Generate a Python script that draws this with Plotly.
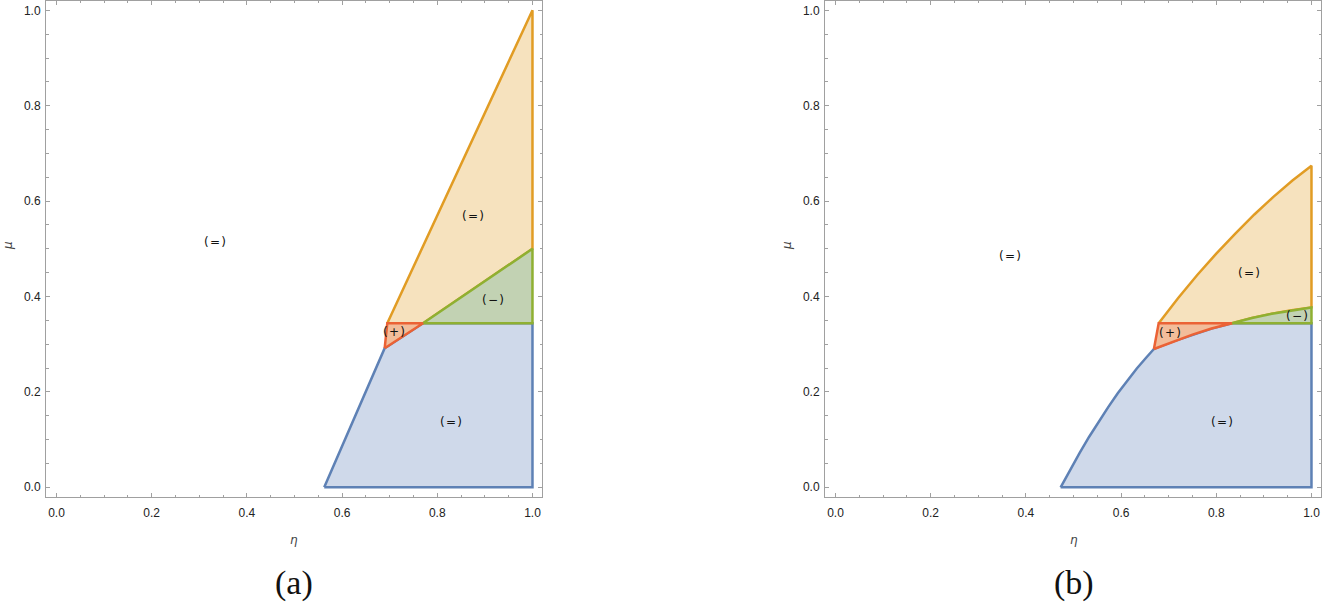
import plotly.graph_objects as go
from plotly.subplots import make_subplots

# colours (Mathematica default palette) and their light fills
BLUE, BLUE_FILL = "#5E81B5", "#CFD9EA"
ORANGE, ORANGE_FILL = "#E19C24", "#F6E2BE"
GREEN, GREEN_FILL = "#8FB032", "#C2D2B3"
RED, RED_FILL = "#EB6235", "#F2BD9A"

MU_SPLIT = 0.344  # horizontal border shared by several regions

# ---- panel (a): straight borders
a_blue_eta = [0.5625, 1.0, 1.0, 0.770, 0.6895]
a_blue_mu = [0.0, 0.0, MU_SPLIT, MU_SPLIT, 0.2916]
a_orange_eta = [0.695, 1.0, 1.0, 0.770]
a_orange_mu = [MU_SPLIT, 1.0, 0.5, MU_SPLIT]
a_green_eta = [0.770, 1.0, 1.0]
a_green_mu = [MU_SPLIT, 0.5, MU_SPLIT]
a_red_eta = [0.6895, 0.770, 0.695]
a_red_mu = [0.2916, MU_SPLIT, MU_SPLIT]

# ---- panel (b): curved borders
b_blue_edge_eta = [0.473, 0.493, 0.513, 0.533, 0.553, 0.573, 0.593, 0.613, 0.633, 0.653, 0.669]
b_blue_edge_mu = [0.0, 0.037, 0.072, 0.106, 0.138, 0.168, 0.197, 0.224, 0.249, 0.272, 0.290]
b_red_edge_eta = [0.669, 0.71, 0.75, 0.79, 0.833]
b_red_edge_mu = [0.290, 0.306, 0.320, 0.333, MU_SPLIT]
b_orange_edge_eta = [0.679, 0.72, 0.76, 0.80, 0.84, 0.88, 0.92, 0.96, 1.0]
b_orange_edge_mu = [MU_SPLIT, 0.397, 0.445, 0.490, 0.532, 0.572, 0.609, 0.643, 0.674]
b_green_edge_eta = [0.833, 0.875, 0.917, 0.958, 1.0]
b_green_edge_mu = [MU_SPLIT, 0.355, 0.364, 0.371, 0.377]

# region labels: (text, eta, mu)
a_labels = [("(=)", 0.332, 0.514), ("(=)", 0.876, 0.569), ("(=)", 0.828, 0.137),
            ("(−)", 0.916, 0.393), ("(+)", 0.710, 0.326)]
b_labels = [("(=)", 0.366, 0.485), ("(=)", 0.868, 0.449), ("(=)", 0.812, 0.137),
            ("(−)", 0.969, 0.359), ("(+)", 0.702, 0.324)]

TICK_VALS = [0.0, 0.2, 0.4, 0.6, 0.8, 1.0]


def closed(xs, ys):
    return list(xs) + [xs[0]], list(ys) + [ys[0]]


def region(fig, xs, ys, line, fill, col):
    x, y = closed(xs, ys)
    fig.add_trace(
        go.Scatter(x=x, y=y, mode="lines", fill="toself", fillcolor=fill,
                   line=dict(color=line, width=2.5), hoverinfo="skip"),
        row=1, col=col,
    )


fig = make_subplots(rows=1, cols=2)

# panel (a)
region(fig, a_blue_eta, a_blue_mu, BLUE, BLUE_FILL, 1)
region(fig, a_orange_eta, a_orange_mu, ORANGE, ORANGE_FILL, 1)
region(fig, a_green_eta, a_green_mu, GREEN, GREEN_FILL, 1)
region(fig, a_red_eta, a_red_mu, RED, RED_FILL, 1)

# panel (b)
blue_x = b_blue_edge_eta + b_red_edge_eta[1:] + [1.0, 1.0]
blue_y = b_blue_edge_mu + b_red_edge_mu[1:] + [MU_SPLIT, 0.0]
region(fig, blue_x, blue_y, BLUE, BLUE_FILL, 2)

orange_x = b_orange_edge_eta + b_green_edge_eta[::-1]
orange_y = b_orange_edge_mu + b_green_edge_mu[::-1]
region(fig, orange_x, orange_y, ORANGE, ORANGE_FILL, 2)

green_x = b_green_edge_eta + [1.0]
green_y = b_green_edge_mu + [MU_SPLIT]
region(fig, green_x, green_y, GREEN, GREEN_FILL, 2)

red_x = b_red_edge_eta + [b_orange_edge_eta[0]]
red_y = b_red_edge_mu + [MU_SPLIT]
region(fig, red_x, red_y, RED, RED_FILL, 2)

for col, labels in ((1, a_labels), (2, b_labels)):
    for text, x, y in labels:
        fig.add_annotation(x=x, y=y, text=text.replace("(", "(\u200a").replace(")", "\u200a)"),
                           showarrow=False, row=1, col=col,
                           font=dict(family="DejaVu Sans", size=12, color="#111111"))

W, H = 1323, 606
axis_style = dict(
    showgrid=False, zeroline=False, showline=True, linecolor="#a0a0a0", linewidth=1,
    mirror="ticks", ticks="inside", ticklen=4, tickcolor="#a0a0a0", tickwidth=1,
    tickvals=TICK_VALS, ticktext=[f"{v:.1f}" for v in TICK_VALS],
    minor=dict(dtick=0.05, tick0=0, ticks="inside", ticklen=2.5, tickcolor="#a0a0a0", showgrid=False),
    tickfont=dict(family="Liberation Sans", size=12, color="#222222"),
)
ydom = [1 - 497 / H, 1 - 0.5 / H]
fig.update_layout(
    width=W, height=H, autosize=False,
    margin=dict(l=0, r=0, t=0, b=0),
    plot_bgcolor="white", paper_bgcolor="white",
    showlegend=False,
    xaxis=dict(axis_style, domain=[46 / W, 542 / W], range=[-0.022, 1.02], ticklabelstandoff=5),
    xaxis2=dict(axis_style, domain=[825 / W, 1321 / W], range=[-0.022, 1.02], ticklabelstandoff=5),
    yaxis=dict(axis_style, domain=ydom, range=[-0.0204, 1.0206], ticklabelstandoff=2),
    yaxis2=dict(axis_style, domain=ydom, range=[-0.0204, 1.0206], ticklabelstandoff=2),
)

# axis titles and captions
for cx, mx, cap in ((294, 8, "(a)"), (1074, 787, "(b)")):
    fig.add_annotation(x=cx / W, y=1 - 540 / H, xref="paper", yref="paper", text="<i>η</i>",
                       xanchor="center", yanchor="middle", showarrow=False,
                       font=dict(family="DejaVu Sans", size=12, color="#444444"))
    fig.add_annotation(x=mx / W, y=1 - 246 / H, xref="paper", yref="paper", text="<i>μ</i>",
                       textangle=-90, xanchor="center", yanchor="middle", showarrow=False,
                       font=dict(family="DejaVu Sans", size=12, color="#444444"))
    fig.add_annotation(x=cx / W, y=1 - 583 / H, xref="paper", yref="paper", text=cap,
                       xanchor="center", yanchor="middle", showarrow=False,
                       font=dict(family="Liberation Serif", size=34, color="#111111"))

# drop the browser's default page margin so the figure fills the window
fig.write_html("out.html", config={"displayModeBar": False},
               post_script="document.body.style.margin='0';")
